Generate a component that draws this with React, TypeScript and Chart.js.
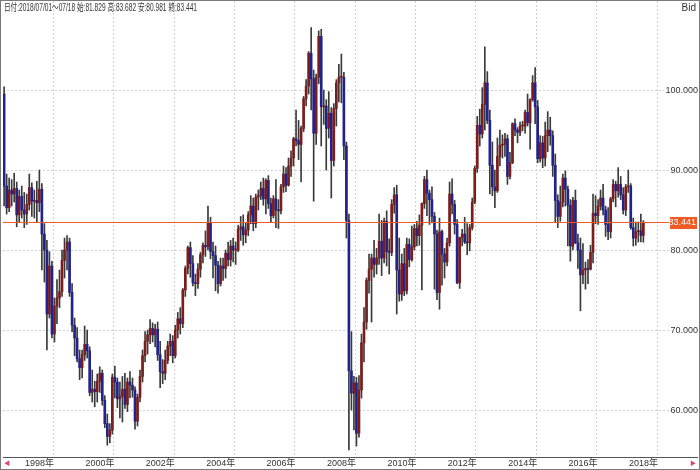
import React, { useEffect, useRef } from "react";
import { Chart, registerables } from "chart.js";
Chart.register(...registerables);

// Monthly AUD/JPY candles, May 1997 .. Jul 2018
const startYear = 1997;
const startMonth = 5;

const opens = [
  99.5, 88.0, 85.3, 87.5, 87.0, 87.7, 84.4, 86.7,
  85.0, 84.5, 85.7, 87.8, 86.1, 86.2, 85.9, 87.6, 82.0, 80.0, 72.0, 78.0,
  69.5, 73.0, 74.0, 74.8, 78.7, 80.0, 81.0, 74.7, 70.6, 69.0, 66.4, 65.3,
  66.9, 68.2, 67.4, 62.2, 62.6, 62.3, 63.6, 64.6, 61.2, 58.3, 56.7, 57.5,
  64.1, 63.5, 61.4, 61.7, 62.6, 60.7, 63.5, 63.1, 62.5, 58.6, 61.6, 64.2,
  66.8, 68.6, 69.4, 70.2, 69.4, 70.1, 66.9, 64.8, 64.6, 66.2, 68.0, 68.6,
  66.8, 70.0, 71.4, 70.8, 75.0, 77.7, 80.3, 78.3, 75.9, 75.8, 77.6, 79.4,
  80.6, 80.4, 83.4, 79.8, 79.3, 78.1, 75.8, 78.0, 77.7, 79.6, 78.8, 80.5,
  80.0, 80.0, 82.6, 82.9, 81.9, 82.5, 84.4, 85.5, 83.3, 86.6, 86.8, 87.7,
  86.4, 88.7, 85.8, 84.3, 86.4, 85.0, 84.9, 87.9, 89.5, 88.1, 90.5, 91.5,
  93.9, 93.7, 93.2, 95.2, 98.9, 100.5, 104.6, 101.4, 94.6, 101.6, 106.7, 97.9,
  98.0, 95.2, 97.1, 91.2, 97.7, 100.9, 101.6, 101.6, 93.0, 83.7, 64.9, 62.1,
  63.4, 57.1, 62.5, 68.4, 71.0, 76.2, 77.6, 79.0, 78.2, 79.0, 81.1, 79.0,
  83.6, 79.8, 79.7, 85.7, 86.9, 77.5, 74.5, 78.3, 74.9, 80.7, 78.8, 80.4,
  82.7, 81.8, 83.1, 85.8, 88.8, 87.1, 86.3, 84.2, 82.0, 74.7, 82.3, 79.5,
  78.5, 80.9, 87.0, 85.7, 83.2, 75.9, 81.6, 82.0, 81.0, 80.9, 82.8, 86.0,
  90.2, 95.6, 94.5, 98.2, 100.9, 96.2, 90.6, 87.9, 87.4, 91.7, 93.1, 93.2,
  93.9, 89.2, 90.9, 95.8, 95.0, 94.7, 95.5, 95.5, 97.2, 95.9, 98.8, 100.9,
  97.9, 91.4, 93.4, 91.5, 94.3, 95.0, 94.3, 90.6, 86.2, 84.2, 86.0, 89.0,
  87.6, 85.6, 80.5, 86.2, 80.9, 80.0, 76.9, 77.5, 77.7, 77.6, 79.7, 84.6,
  84.3, 85.5, 86.5, 85.0, 83.2, 82.3, 86.4, 88.2, 87.4, 88.2, 86.9, 85.0,
  87.9, 88.0, 82.8, 81.5, 82.3, 82.4, 81.829,
];

const highs = [
  100.4, 89.5, 89.0, 88.8, 89.6, 88.5, 87.5, 88.0,
  87.2, 87.0, 89.5, 88.4, 87.5, 88.6, 90.0, 88.3, 83.3, 81.2, 79.8, 78.6,
  74.0, 76.3, 77.5, 80.0, 81.5, 81.8, 81.5, 75.8, 71.5, 70.3, 67.5, 67.5,
  70.5, 70.0, 67.9, 65.0, 63.6, 64.5, 65.4, 65.0, 61.8, 59.5, 58.3, 64.5,
  65.5, 64.0, 63.5, 64.2, 64.6, 64.0, 64.8, 64.0, 62.9, 62.0, 65.0, 67.5,
  69.8, 70.0, 71.3, 70.9, 70.7, 71.0, 68.6, 66.3, 67.5, 68.6, 69.5, 69.3,
  70.6, 72.2, 72.8, 75.2, 78.0, 80.5, 81.0, 79.3, 77.0, 78.3, 79.7, 80.9,
  82.4, 85.5, 84.1, 81.0, 80.5, 78.6, 79.0, 79.0, 80.0, 81.0, 81.2, 81.5,
  81.0, 83.1, 84.2, 84.4, 83.4, 84.8, 86.8, 86.5, 87.0, 87.5, 88.5, 89.0,
  88.9, 89.3, 86.5, 86.8, 88.8, 86.3, 88.2, 90.5, 90.3, 91.5, 92.4, 94.1,
  97.5, 96.2, 95.5, 99.2, 101.3, 104.8, 107.8, 102.5, 102.0, 107.4, 107.6, 100.0,
  98.8, 99.8, 97.8, 98.3, 101.3, 103.2, 104.5, 102.2, 93.5, 84.5, 69.8, 64.2,
  64.1, 64.3, 69.5, 72.8, 76.5, 79.5, 79.5, 81.2, 80.2, 84.5, 83.7, 84.0,
  84.9, 81.4, 86.3, 87.8, 88.1, 81.5, 79.5, 80.2, 81.5, 81.4, 83.0, 83.2,
  83.6, 84.4, 85.9, 89.2, 90.0, 87.5, 87.9, 84.7, 82.5, 84.0, 82.5, 80.2,
  81.5, 88.5, 88.9, 86.2, 83.8, 81.6, 82.6, 84.1, 83.3, 83.2, 86.5, 90.5,
  96.7, 97.6, 100.3, 105.4, 102.3, 97.5, 93.5, 90.0, 94.0, 95.0, 94.4, 94.6,
  94.4, 92.2, 95.9, 96.4, 95.3, 96.0, 96.1, 97.5, 99.5, 98.9, 101.8, 102.8,
  98.7, 94.3, 94.2, 96.0, 97.3, 96.6, 94.9, 92.0, 86.9, 88.0, 89.5, 89.9,
  88.0, 86.3, 86.6, 87.5, 82.0, 81.5, 80.8, 78.5, 78.8, 80.6, 87.0, 86.8,
  86.3, 87.5, 88.2, 85.5, 85.3, 86.6, 88.8, 88.6, 90.3, 89.2, 87.8, 88.2,
  90.0, 88.3, 84.0, 83.5, 83.5, 84.5, 83.682,
];

const lows = [
  85.5, 84.5, 84.8, 85.5, 86.0, 82.9, 83.5, 84.0,
  82.8, 83.2, 85.0, 84.2, 84.0, 83.5, 84.8, 77.5, 76.0, 67.5, 71.5, 69.0,
  68.5, 70.8, 72.8, 74.2, 76.5, 77.5, 74.2, 69.8, 66.8, 66.0, 63.8, 64.0,
  66.2, 66.5, 61.8, 61.0, 60.4, 61.0, 62.2, 60.6, 57.8, 55.6, 55.9, 57.0,
  61.5, 60.3, 59.0, 58.5, 60.2, 59.8, 61.5, 61.6, 57.6, 58.0, 61.0, 63.5,
  66.0, 67.0, 68.3, 68.5, 67.9, 66.2, 62.8, 63.3, 63.8, 65.8, 66.8, 65.9,
  66.5, 69.0, 69.5, 70.3, 74.2, 77.0, 76.6, 75.5, 74.3, 75.2, 76.6, 78.4,
  79.2, 80.0, 78.9, 76.5, 74.9, 74.6, 75.5, 76.2, 76.5, 78.0, 78.0, 78.5,
  78.2, 79.8, 81.2, 80.6, 80.9, 81.8, 83.3, 82.4, 82.8, 85.0, 86.3, 85.6,
  84.5, 85.2, 83.5, 84.0, 82.8, 82.7, 84.5, 87.2, 87.3, 88.0, 89.2, 90.5,
  93.0, 91.3, 88.5, 94.8, 98.0, 99.5, 97.5, 86.1, 93.2, 100.8, 93.0, 95.7,
  90.0, 94.0, 86.5, 90.5, 95.5, 98.5, 98.4, 91.3, 81.5, 55.0, 60.0, 57.5,
  55.5, 56.6, 61.5, 66.0, 70.1, 74.6, 71.0, 76.6, 77.0, 78.2, 76.8, 78.4,
  78.0, 77.0, 79.3, 84.6, 72.0, 73.6, 73.7, 74.3, 74.5, 77.9, 78.6, 80.0,
  80.5, 80.6, 75.0, 85.2, 84.3, 83.2, 83.4, 75.1, 73.8, 72.6, 75.6, 76.5,
  78.0, 80.5, 84.5, 82.0, 75.8, 75.2, 80.5, 80.8, 79.4, 79.9, 82.5, 85.8,
  89.7, 93.0, 94.0, 95.0, 95.8, 87.0, 86.8, 85.3, 87.2, 90.5, 91.5, 91.7,
  88.2, 88.9, 90.8, 94.3, 93.4, 94.3, 94.9, 94.6, 95.5, 92.6, 98.6, 95.8,
  90.9, 91.0, 90.3, 90.5, 92.3, 93.1, 89.2, 83.5, 82.8, 83.6, 85.4, 85.5,
  80.5, 78.6, 80.0, 80.8, 77.7, 72.4, 75.8, 75.1, 75.8, 77.5, 78.4, 83.3,
  83.2, 85.0, 84.4, 81.7, 81.3, 81.5, 86.0, 85.4, 86.6, 86.3, 84.5, 84.3,
  87.2, 82.6, 80.5, 80.6, 81.0, 81.0, 80.981,
];

const closes = [
  88.0, 85.3, 87.5, 87.0, 87.7, 84.4, 86.7, 85.0,
  84.5, 85.7, 87.8, 86.1, 86.2, 85.9, 87.6, 82.0, 80.0, 72.0, 78.0, 69.5,
  73.0, 74.0, 74.8, 78.7, 80.0, 81.0, 74.7, 70.6, 69.0, 66.4, 65.3, 66.9,
  68.2, 67.4, 62.2, 62.6, 62.3, 63.6, 64.6, 61.2, 58.3, 56.7, 57.5, 64.1,
  63.5, 61.4, 61.7, 62.6, 60.7, 63.5, 63.1, 62.5, 58.6, 61.6, 64.2, 66.8,
  68.6, 69.4, 70.2, 69.4, 70.1, 66.9, 64.8, 64.6, 66.2, 68.0, 68.6, 66.8,
  70.0, 71.4, 70.8, 75.0, 77.7, 80.3, 78.3, 75.9, 75.8, 77.6, 79.4, 80.6,
  80.4, 83.4, 79.8, 79.3, 78.1, 75.8, 78.0, 77.7, 79.6, 78.8, 80.5, 80.0,
  80.0, 82.6, 82.9, 81.9, 82.5, 84.4, 85.5, 83.3, 86.6, 86.8, 87.7, 86.4,
  88.7, 85.8, 84.3, 86.4, 85.0, 84.9, 87.9, 89.5, 88.1, 90.5, 91.5, 93.9,
  93.7, 93.2, 95.2, 98.9, 100.5, 104.6, 101.4, 94.6, 101.6, 106.7, 97.9, 98.0,
  95.2, 97.1, 91.2, 97.7, 100.9, 101.6, 101.6, 93.0, 83.7, 64.9, 62.1, 63.4,
  57.1, 62.5, 68.4, 71.0, 76.2, 77.6, 79.0, 78.2, 79.0, 81.1, 79.0, 83.6,
  79.8, 79.7, 85.7, 86.9, 77.5, 74.5, 78.3, 74.9, 80.7, 78.8, 80.4, 82.7,
  81.8, 83.1, 85.8, 88.8, 87.1, 86.3, 84.2, 82.0, 74.7, 82.3, 79.5, 78.5,
  80.9, 87.0, 85.7, 83.2, 75.9, 81.6, 82.0, 81.0, 80.9, 82.8, 86.0, 90.2,
  95.6, 94.5, 98.2, 100.9, 96.2, 90.6, 87.9, 87.4, 91.7, 93.1, 93.2, 93.9,
  89.2, 90.9, 95.8, 95.0, 94.7, 95.5, 95.5, 97.2, 95.9, 98.8, 100.9, 97.9,
  91.4, 93.4, 91.5, 94.3, 95.0, 94.3, 90.6, 86.2, 84.2, 86.0, 89.0, 87.6,
  85.6, 80.5, 86.2, 80.9, 80.0, 76.9, 77.5, 77.7, 77.6, 79.7, 84.6, 84.3,
  85.5, 86.5, 85.0, 83.2, 82.3, 86.4, 88.2, 87.4, 88.2, 86.9, 85.0, 87.9,
  88.0, 82.8, 81.5, 82.3, 82.4, 81.829, 83.441,
];

const tickYears = [1998, 2000, 2002, 2004, 2006, 2008, 2010, 2012, 2014, 2016, 2018];
const priceTicks = [60, 70, 80, 90, 100];
const lastPrice = 83.441;
const headerText = "日付:2018/07/01～07/18 始:81.829 高:83.682 安:80.981 終:83.441";

const xMin = 1997.3377;
const xMax = 2020.318;
const yMin = 54.1285;
const yMax = 111.1285;

const UP = "#7e1b1b";
const DOWN = "#22228c";
const WICK = "#3a3a3a";
const PRICE = "#f05a24";
const GRID = "#d2d2d2";
const FONT = '"Liberation Sans", "Noto Sans CJK JP", sans-serif';

function monthX(i: number) {
  const total = startMonth - 1 + i;
  const year = startYear + Math.floor(total / 12);
  const m = (total % 12) + 1;
  return year + (m - 0.5) / 12;
}

const lastPricePlugin = {
  id: "lastPriceLabel",
  afterDatasetsDraw(chart: any) {
    const y = chart.scales.y.getPixelForValue(lastPrice);
    const right = chart.chartArea.right;
    const ctx = chart.ctx;
    ctx.save();
    ctx.fillStyle = PRICE;
    ctx.fillRect(right - 27, Math.floor(y) - 5, 27, 12);
    ctx.fillStyle = "#ffffff";
    ctx.font = "9px " + FONT;
    ctx.textAlign = "right";
    ctx.textBaseline = "middle";
    ctx.fillText(lastPrice.toFixed(3), right - 1, Math.floor(y) + 1);
    ctx.restore();
  },
};

export default function App() {
  const ref = useRef<HTMLCanvasElement | null>(null);
  useEffect(() => {
    if (!ref.current) return;
    const xs = opens.map((_, i) => monthX(i));
    const bodies = opens.map((o, i) => ({ x: xs[i], y: [o, closes[i]] }));
    const wicks = opens.map((_, i) => ({ x: xs[i], y: [lows[i], highs[i]] }));
    const bodyColors = opens.map((o, i) => (closes[i] >= o ? UP : DOWN));
    const chart = new Chart(ref.current, {
      type: "bar",
      data: {
        datasets: [
          {
            type: "bar",
            data: bodies as any,
            backgroundColor: bodyColors,
            borderWidth: 0,
            barThickness: 2,
            minBarLength: 1,
            grouped: false,
            order: 1,
          } as any,
          {
            type: "bar",
            data: wicks as any,
            backgroundColor: WICK,
            borderWidth: 0,
            barThickness: 1,
            grouped: false,
            order: 2,
          } as any,
          {
            type: "line",
            data: [
              { x: xMin, y: lastPrice },
              { x: xMax, y: lastPrice },
            ],
            borderColor: PRICE,
            borderWidth: 1,
            pointRadius: 0,
            order: 0,
          } as any,
        ],
      },
      options: {
        animation: false,
        responsive: false,
        maintainAspectRatio: false,
        events: [],
        layout: { padding: { left: 2, right: 2, top: 0, bottom: 0 } },
        plugins: { legend: { display: false }, tooltip: { enabled: false }, title: { display: false } },
        scales: {
          x: {
            type: "linear",
            min: xMin,
            max: xMax,
            offset: false,
            afterBuildTicks: (s: any) => {
              s.ticks = tickYears.map((v) => ({ value: v }));
            },
            afterFit: (s: any) => {
              s.height = 12;
              s.paddingLeft = 0;
              s.paddingRight = 0;
            },
            ticks: {
              autoSkip: false,
              maxRotation: 0,
              align: "start",
              labelOffset: 2,
              padding: 1,
              color: "#333",
              font: { size: 9, family: FONT },
              callback: (v: any) => `${v}年`,
            },
            grid: { color: GRID, drawTicks: false, lineWidth: 1 },
            border: { display: true, color: "#555", width: 1, dash: [2, 2] },
          },
          y: {
            position: "right",
            min: yMin,
            max: yMax,
            afterBuildTicks: (s: any) => {
              s.ticks = priceTicks.map((v) => ({ value: v }));
            },
            afterFit: (s: any) => {
              s.width = 0;
              s.paddingTop = 0;
              s.paddingBottom = 0;
            },
            ticks: {
              mirror: true,
              padding: 1,
              color: "#333",
              font: { size: 9, family: FONT },
              callback: (v: any) => Number(v).toFixed(3),
              showLabelBackdrop: true,
              backdropColor: "#ffffff",
              backdropPadding: 1,
            },
            grid: { color: GRID, drawTicks: false, lineWidth: 1 },
            border: { display: false, dash: [2, 2] },
          },
        },
      } as any,
      plugins: [lastPricePlugin],
    });
    return () => chart.destroy();
  }, []);

  return (
    <div
      style={{
        position: "fixed",
        left: 0,
        top: 0,
        width: 698,
        height: 468,
        border: "1px solid #7a7a7a",
        background: "#fff",
        fontFamily: FONT,
      }}
    >
      <canvas ref={ref} width={698} height={468} style={{ display: "block", width: 698, height: 468 }} />
      <div
        style={{
          position: "absolute",
          left: 3,
          top: 1,
          fontSize: 10,
          color: "#333",
          lineHeight: "12px",
          whiteSpace: "nowrap",
          transform: "scaleX(0.66)",
          transformOrigin: "left top",
        }}
      >
        {headerText}
      </div>
      <div style={{ position: "absolute", right: 3, top: 1, fontSize: 10, color: "#333", lineHeight: "12px" }}>Bid</div>
      <div style={{ position: "absolute", left: 3, bottom: 0, fontSize: 6, color: "#e0407a", lineHeight: "11px" }}>◀</div>
      <div style={{ position: "absolute", right: 3, bottom: 0, fontSize: 6, color: "#e0407a", lineHeight: "11px" }}>▶</div>
    </div>
  );
}
